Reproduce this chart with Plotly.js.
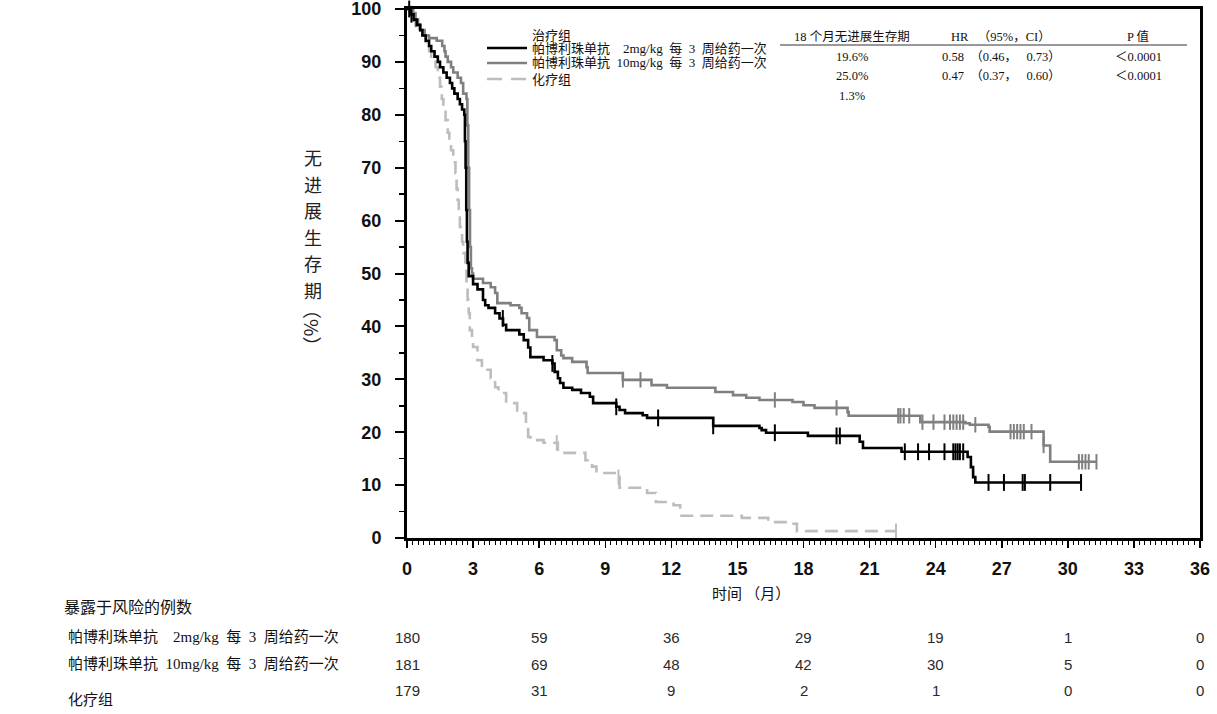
<!DOCTYPE html>
<html>
<head>
<meta charset="utf-8">
<script src="https://cdn.plot.ly/plotly-3.0.1.min.js"></script>
<style>html,body{margin:0;padding:0;background:#fff;}#chart{width:1217px;height:714px;}</style>
</head>
<body>
<div id="chart"></div>
<script>
// ---- data ----
const t2mg = [0,0.15,0.3,0.45,0.6,0.7,0.85,1.0,1.1,1.25,1.4,1.5,1.65,1.8,1.95,2.05,2.15,2.3,2.4,2.5,2.6,2.63,2.66,2.69,2.72,2.75,2.8,3.0,3.2,3.45,3.55,3.7,4.0,4.2,4.36,4.5,5.1,5.3,5.5,5.6,6.2,6.6,6.7,6.85,6.95,7.1,7.5,7.9,8.3,8.45,9.5,9.65,9.9,10.7,10.9,13.9,16.0,16.1,16.3,18.2,20.55,20.7,22.45,25.45,25.6,25.7,25.8,30.6];
const s2mg = [100,99,98,97,96,95,94,93,92,91,90,89,88,87,86,85,84,83,82,81,80,75,70,62,56,52,49.5,48,47,45,44,43.5,42.5,41.5,40.3,39.3,38.5,37.4,36,34.2,33.6,33,31.4,30.2,29.3,28.4,28,27.4,26.7,25.5,24.8,24.2,23.6,23.2,22.7,21.2,20.8,20.4,19.9,19.3,18.2,17.0,16.3,15.3,13.4,11.5,10.5,10.5];
const cens2mg = [0.1,0.2,4.35,6.6,9.5,11.4,13.9,16.7,19.5,19.65,22.6,23.2,23.7,24.4,24.8,24.9,25.0,25.1,25.25,26.4,27.1,27.95,28.05,29.2,30.6];

const t10mg = [0,0.2,0.35,0.5,0.6,0.8,1.0,1.35,1.6,1.7,1.75,1.85,2.0,2.1,2.3,2.45,2.55,2.7,2.74,2.78,2.82,2.86,2.9,2.95,3.0,3.45,3.8,4.0,4.1,4.7,5.1,5.2,5.45,5.55,5.9,6.7,6.8,7.0,7.1,7.5,8.15,8.2,9.8,11.1,11.8,14.0,14.8,15.4,16.0,17.5,18.0,18.5,20.0,20.05,23.3,25.35,25.55,26.4,26.45,28.9,29.2,31.3];
const s10mg = [100,99,98,97,96,95,94.5,94,93,92,91,90,89,88,87,86,84,83,78,70,62,55,51,50,49,48.2,47.4,46.3,44.4,44,43.5,42.5,41.6,39.3,38,37.4,35.5,34.5,34,33.3,32.3,31.2,29.9,28.9,28.4,27.6,27.0,26.5,26.1,25.7,25.1,24.6,23.8,23.1,21.9,21.7,21.4,21.0,20.1,17.5,14.4,14.4];
const cens10mg = [0.3,0.4,9.8,10.6,16.7,19.5,22.3,22.4,22.55,22.8,23.4,23.9,24.4,24.65,24.8,24.95,25.1,25.25,25.8,27.4,27.55,27.7,27.85,28.0,28.35,28.9,30.5,30.65,30.8,30.95,31.3];

const tChemo = [0,0.25,0.4,0.55,0.7,0.85,1.0,1.1,1.2,1.3,1.4,1.5,1.58,1.65,1.75,1.85,1.92,2.0,2.1,2.2,2.25,2.3,2.35,2.4,2.5,2.55,2.65,2.7,2.75,2.8,2.85,2.95,3.0,3.2,3.4,3.8,4.0,4.15,4.5,5.0,5.4,5.5,5.6,6.2,6.85,8.1,8.4,8.6,9.5,9.65,10.9,11.3,12.1,12.4,15.2,16.4,17.3,17.7,22.2];
const sChemo = [100,98,97,96,95,93.5,92,91,90,89,87,85.3,83,81,79,76.6,75,73.3,71,69,66,63.9,61,58.8,56,53.9,51.2,48,45,42.5,39.3,37.5,36.1,33.6,31.8,30.2,28.5,27.4,25.5,23.6,21.7,19.1,18.5,18,16.1,14.7,13.5,12.3,11.5,9.5,8.5,6.8,6.2,4.2,3.8,3.0,2.7,1.3,1.3];
const censChemo = [6.8,9.6,22.2];

const NB = '\u00a0';
const groupNames = [
  '帕博利珠单抗'+NB+NB+NB+NB+'2mg/kg'+NB+NB+'每'+NB+NB+'3'+NB+NB+'周给药一次',
  '帕博利珠单抗'+NB+NB+'10mg/kg'+NB+NB+'每'+NB+NB+'3'+NB+NB+'周给药一次',
  '化疗组'];
const yTitleChars = ['无','进','展','生','存','期'];
const pfs18 = ['19.6%','25.0%','1.3%'];
const hrText = ['0.58'+NB+NB+'（0.46，'+NB+NB+NB+'0.73）','0.47'+NB+NB+'（0.37，'+NB+NB+NB+'0.60）',''];
const pText = ['＜0.0001','＜0.0001',''];

const riskTimes = [0,6,12,18,24,30,36];
const risk2mg = [180,59,36,29,19,1,0];
const risk10mg = [181,69,48,42,30,5,0];
const riskChemo = [179,31,9,2,1,0,0];

const xTicks = [0,3,6,9,12,15,18,21,24,27,30,33,36];
const yTicks = [0,10,20,30,40,50,60,70,80,90,100];

// ---- helpers ----
function stepAt(ts, ss, t){ let v = ss[0]; for(let i=0;i<ts.length;i++){ if(ts[i]<=t) v=ss[i]; } return v; }
const L=407, R=1200, T=9, B=538;
const px = p => (p-L)/(R-L);
const py = p => (B-p)/(B-T);

const cBlack='#000000', cGray='#808080', cLight='#bdbdbd';
const serif = 'Liberation Serif, Noto Sans CJK SC, serif';
const cjk = 'Noto Sans CJK SC, Liberation Sans, sans-serif';

function curve(ts, ss, color, dash){
  return {x:ts, y:ss, type:'scatter', mode:'lines', line:{shape:'hv', color:color, width:2.6, dash:dash||'solid'}, hoverinfo:'skip', showlegend:false, cliponaxis:false};
}
function cens(ts, curT, curS, color, size){
  return {x:ts, y:ts.map(t=>stepAt(curT,curS,t)), type:'scatter', mode:'markers',
    marker:{symbol:'line-ns', size:size, color:color, line:{color:color, width:2}}, hoverinfo:'skip', showlegend:false, cliponaxis:false};
}

const data = [
  curve(tChemo, sChemo, cLight, '13px,7px'),
  cens(censChemo, tChemo, sChemo, cLight, 11),
  curve(t10mg, s10mg, cGray),
  cens(cens10mg, t10mg, s10mg, cGray, 11),
  curve(t2mg, s2mg, cBlack),
  cens(cens2mg, t2mg, s2mg, cBlack, 12)
];

const ann = [];
// y title: upright stacked characters
yTitleChars.forEach((c,i)=>{
  ann.push({xref:'paper', yref:'paper', x:px(313), y:py(157 + i*26.5), text:c, showarrow:false, font:{family:cjk, size:18, color:'#222'}, xanchor:'center', yanchor:'middle'});
});
ann.push({xref:'paper', yref:'paper', x:px(313), y:py(328), text:'（%）', textangle:90, showarrow:false, font:{family:cjk, size:19, color:'#222'}, xanchor:'center', yanchor:'middle'});
// x title
ann.push({xref:'paper', yref:'paper', x:px(751), y:py(593), text:'时间 （月）', showarrow:false, font:{family:cjk, size:15, color:'#111'}, xanchor:'center', yanchor:'middle'});
// legend
ann.push({xref:'paper', yref:'paper', x:px(530), y:py(35), text:'治疗组', showarrow:false, font:{family:serif, size:13, color:'#111'}, xanchor:'left', yanchor:'middle'});
const legY = [48,63,79];
groupNames.forEach((g,i)=>{
  ann.push({xref:'paper', yref:'paper', x:px(530), y:py(legY[i]), text:g, showarrow:false, font:{family:serif, size:13, color:'#111'}, xanchor:'left', yanchor:'middle'});
});
// stats table
const colX = [852, 1001, 1138];
const heads = ['18 个月无进展生存期','HR'+NB+NB+NB+'（95%，CI）','P 值'];
heads.forEach((h,i)=>ann.push({xref:'paper', yref:'paper', x:px(colX[i]), y:py(37), text:h, showarrow:false, font:{family:serif, size:12.5, color:'#111'}, xanchor:'center', yanchor:'middle'}));
const rowY = [57,76,96];
[pfs18, hrText, pText].forEach((col,ci)=>{
  col.forEach((v,ri)=>{ if(v) ann.push({xref:'paper', yref:'paper', x:px(colX[ci]), y:py(rowY[ri]), text:v, showarrow:false, font:{family:serif, size:12.5, color:'#111'}, xanchor:'center', yanchor:'middle'}); });
});
// risk table
ann.push({xref:'paper', yref:'paper', x:px(62), y:py(606), text:'暴露于风险的例数', showarrow:false, font:{family:cjk, size:16, color:'#111'}, xanchor:'left', yanchor:'middle'});
const riskLabelY = [637,664,700];
groupNames.forEach((g,i)=>ann.push({xref:'paper', yref:'paper', x:px(66), y:py(riskLabelY[i]), text:g, showarrow:false, font:{family:serif, size:15, color:'#111'}, xanchor:'left', yanchor:'middle'}));
const riskRowsY = [637,664,690];
[risk2mg, risk10mg, riskChemo].forEach((row,ri)=>{
  row.forEach((n,i)=>ann.push({xref:'x', yref:'paper', x:riskTimes[i], y:py(riskRowsY[ri]), text:String(n), showarrow:false, font:{family:'Liberation Sans, Arial, sans-serif', size:15, color:'#2a2a2a'}, xanchor:'center', yanchor:'middle'}));
});

const shapes = [
  {type:'line', xref:'paper', yref:'paper', x0:px(487), x1:px(527), y0:py(48), y1:py(48), line:{color:cBlack, width:2.6}},
  {type:'line', xref:'paper', yref:'paper', x0:px(487), x1:px(527), y0:py(63), y1:py(63), line:{color:cGray, width:2.6}},
  {type:'line', xref:'paper', yref:'paper', x0:px(487), x1:px(527), y0:py(79), y1:py(79), line:{color:cLight, width:2.6, dash:'15px,9px'}},
  {type:'line', xref:'paper', yref:'paper', x0:px(780), x1:px(1187), y0:py(45), y1:py(45), line:{color:'#333', width:1}}
];

const tickFont = {family:'Liberation Sans, Arial, sans-serif', size:18, color:'#111', weight:'bold'};
const layout = {
  width:1217, height:714,
  margin:{l:L, r:1217-R, t:T, b:714-B, pad:0},
  paper_bgcolor:'#fff', plot_bgcolor:'#fff',
  showlegend:false,
  xaxis:{range:[0,36], tickvals:xTicks, ticktext:xTicks.map(String), ticks:'outside', ticklen:7, tickwidth:1.5, tickcolor:'#000',
    showline:true, linecolor:'#000', linewidth:3, mirror:true, showgrid:false, zeroline:false, tickfont:tickFont, ticklabelstandoff:5,
    ticklabeloverflow:'allow',
    minor:{dtick:0.25, tick0:0, ticks:'outside', ticklen:4, tickwidth:1, tickcolor:'#000', showgrid:false}},
  yaxis:{range:[0,100], tickvals:yTicks, ticktext:yTicks.map(String), ticks:'outside', ticklen:9, tickwidth:2, tickcolor:'#000',
    showline:true, linecolor:'#000', linewidth:3, mirror:true, showgrid:false, zeroline:false, tickfont:tickFont, ticklabelstandoff:10,
    ticklabeloverflow:'allow',
    minor:{dtick:5, tick0:0, ticks:'outside', ticklen:5, tickwidth:1.5, tickcolor:'#000', showgrid:false}},
  annotations:ann,
  shapes:shapes
};
Plotly.newPlot('chart', data, layout, {displayModeBar:false, staticPlot:true});
</script>
</body>
</html>
